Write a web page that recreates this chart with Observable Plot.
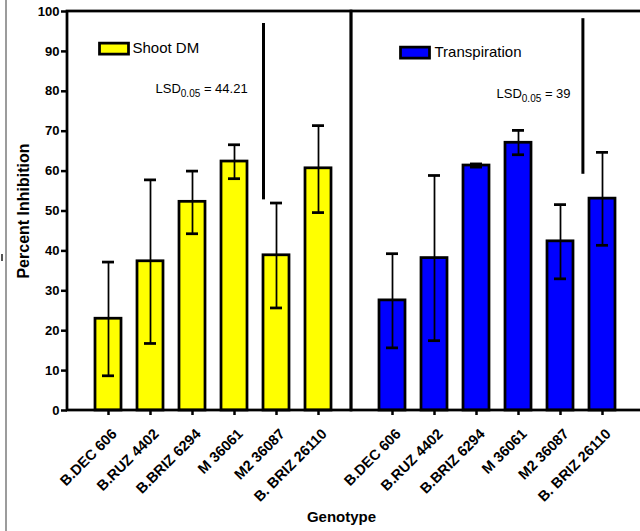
<!DOCTYPE html>
<html><head><meta charset="utf-8">
<script src="https://cdn.jsdelivr.net/npm/d3@7"></script>
<script src="https://cdn.jsdelivr.net/npm/@observablehq/plot@0.6"></script>
<style>
html,body{margin:0;padding:0;background:#fff;overflow:hidden;}
#wrap{position:relative;width:640px;height:531px;overflow:hidden;}
#edge{position:absolute;left:5px;top:0;width:2px;height:531px;background:#9c9c9c;}
#nick{position:absolute;left:1px;top:254px;width:2px;height:7px;background:#555;}
#chart svg{font-family:"Liberation Sans",Arial,sans-serif;overflow:hidden;}
g[aria-label="y-axis tick label"] text{font-weight:bold;font-size:13px;fill:#000;}
g[aria-label="x-axis tick label"] text{font-weight:bold;font-size:14.5px;fill:#000;}
g[aria-label="y-axis tick"] path, g[aria-label="x-axis tick"] path{stroke-width:2.5px;stroke:#000;}
g[aria-label="y-axis label"] text{font-weight:bold;font-size:16px;fill:#000;}
</style>
</head><body>
<div id="wrap"><div id="edge"></div><div id="nick"></div><div id="chart"></div></div>
<script>
const genotypes = ["B.DEC 606","B.RUZ 4402","B.BRIZ 6294","M 36061","M2 36087","B. BRIZ 26110"];
const series = ["Shoot DM","Transpiration"];
const seriesColors = ["#ffff00","#0000ff"];
const shootDM = [23.0,37.4,52.3,62.4,38.9,60.7];
const shootDMLow = [8.7,16.8,44.3,58.1,25.7,49.6];
const shootDMHigh = [37.2,57.8,60.0,66.6,52.0,71.4];
const transpiration = [27.6,38.2,61.4,67.1,42.4,53.1];
const transpirationLow = [15.7,17.5,61.0,64.1,33.0,41.4];
const transpirationHigh = [39.3,58.9,61.8,70.2,51.6,64.7];
const lsdValues = [44.21, 39];
const lsdTop = [97.0, 98.2];
const yTicks = [0,10,20,30,40,50,60,70,80,90,100];
const yTitle = "Percent Inhibition";
const xTitle = "Genotype";

const vals = [shootDM, transpiration], lows = [shootDMLow, transpirationLow], highs = [shootDMHigh, transpirationHigh];
const rows = series.flatMap((s,i)=>genotypes.map((g,j)=>({series:s, genotype:g, value:vals[i][j], lo:lows[i][j], hi:highs[i][j]})));
const lsd = series.map((s,i)=>({series:s, genotype:"M2 36087", lo:lsdTop[i]-lsdValues[i], hi:lsdTop[i], label:`LSD0.05 = ${lsdValues[i]}`}));
const legendRect = {draw(ctx){ ctx.rect(-14.5,-5.5,29,11); }};

const chart = Plot.plot({
  width: 640, height: 531,
  marginLeft: 67, marginRight: 5, marginTop: 11, marginBottom: 121,
  style: {fontFamily: '"Liberation Sans", Arial, sans-serif', fontSize: "13px", background: "transparent", overflow: "hidden"},
  fx: {domain: series, padding: 0, axis: null, label: null},
  x: {domain: genotypes, paddingInner: 0.38, paddingOuter: 0.508, align: 0.59, label: null},
  y: {domain: [0,100], ticks: yTicks, tickSize: 6, tickPadding: 2, label: yTitle, labelAnchor: "center", labelOffset: 50, labelArrow: "none"},
  color: {domain: series, range: seriesColors},
  marks: [
    Plot.barY(rows, {fx:"series", x:"genotype", y:"value", fill:"series", stroke:"black", strokeWidth:2.75}),
    Plot.ruleX(rows, {fx:"series", x:"genotype", y1:"lo", y2:"hi", stroke:"black", strokeWidth:1.75}),
    Plot.tickY(rows, {fx:"series", x:"genotype", y:"lo", stroke:"black", strokeWidth:2.75, insetLeft:7, insetRight:7}),
    Plot.tickY(rows, {fx:"series", x:"genotype", y:"hi", stroke:"black", strokeWidth:2.75, insetLeft:7, insetRight:7}),
    Plot.rect([{series:series[0]}], {fx:"series", fill:"none", stroke:"black", strokeWidth:2.75}),
    Plot.rect([{series:series[1]}], {fx:"series", fill:"none", stroke:"black", strokeWidth:2.75, insetRight:-14}),
    Plot.axisX({tickSize: 5, tickFormat: () => "", label: null}),
    Plot.axisX({tickSize: 0, tickPadding: 21, tickRotate: -45, dx: 6, label: null, fontSize: 14.5, fontWeight: "bold"}),
    Plot.ruleX([lsd[0]], {fx:"series", x:"genotype", y1:"lo", y2:"hi", stroke:"black", strokeWidth:3, dx:-13}),
    Plot.ruleX([lsd[1]], {fx:"series", x:"genotype", y1:"lo", y2:"hi", stroke:"black", strokeWidth:3, dx:22.4}),
    Plot.text([lsd[0]], {fx:"series", text:"label", frameAnchor:"top-left", dx:88, dy:77.5, textAnchor:"start", lineAnchor:"middle", fontSize:13, fill:"black"}),
    Plot.text([lsd[1]], {fx:"series", text:"label", frameAnchor:"top-left", dx:145, dy:82.5, textAnchor:"start", lineAnchor:"middle", fontSize:13, fill:"black"}),
    Plot.dot([{series:series[0]}], {fx:"series", frameAnchor:"top-left", dx:46.5, dy:37, symbol:legendRect, fill:"series", stroke:"black", strokeWidth:2.75, r:5}),
    Plot.dot([{series:series[1]}], {fx:"series", frameAnchor:"top-left", dx:63.5, dy:41, symbol:legendRect, fill:"series", stroke:"black", strokeWidth:2.75, r:5}),
    Plot.text([{series:series[0]}], {fx:"series", text:"series", frameAnchor:"top-left", dx:65, dy:37, textAnchor:"start", lineAnchor:"middle", fontSize:15, fill:"black"}),
    Plot.text([{series:series[1]}], {fx:"series", text:"series", frameAnchor:"top-left", dx:83, dy:41, textAnchor:"start", lineAnchor:"middle", fontSize:15, fill:"black"}),
    Plot.text([{series:series[0], label:xTitle}], {fx:"series", text:"label", frameAnchor:"bottom-right", dx:-10, dy:107, textAnchor:"middle", lineAnchor:"middle", fontSize:15, fontWeight:"bold", fill:"black"})
  ]
});
document.getElementById("chart").appendChild(chart);

// subscript for LSD labels
chart.querySelectorAll("text").forEach(t => {
  const s = t.textContent;
  if (s.startsWith("LSD0.05")) {
    const rest = s.slice(7);
    while (t.firstChild) t.removeChild(t.firstChild);
    const ns = "http://www.w3.org/2000/svg";
    const a = document.createElementNS(ns, "tspan"); a.textContent = "LSD";
    const b = document.createElementNS(ns, "tspan"); b.textContent = "0.05"; b.setAttribute("font-size", "10"); b.setAttribute("dy", "3.5");
    const c = document.createElementNS(ns, "tspan"); c.textContent = rest; c.setAttribute("dy", "-3.5");
    t.append(a, b, c);
  }
});
</script>
</body></html>
